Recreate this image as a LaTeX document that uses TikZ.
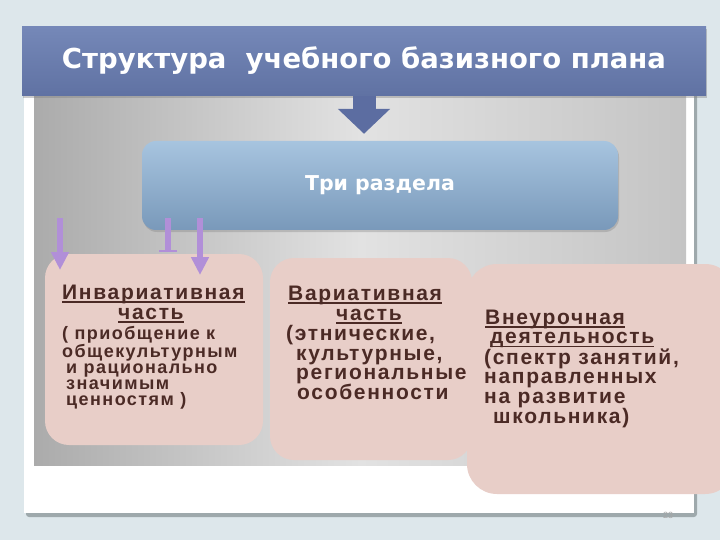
\documentclass[tikz,border=0pt]{standalone}
\usepackage{fontspec}
\setmainfont{Liberation Sans}
\newfontfamily\spacedfont[LetterSpace=8]{Liberation Sans}
\newfontfamily\widefont{DejaVu Sans}
\usetikzlibrary{arrows.meta,shadows}

\definecolor{slidebg}{HTML}{DDE7EB}
\definecolor{framegray}{HTML}{9EA9AC}
\definecolor{panelleft}{HTML}{ABABAB}
\definecolor{panelmid}{HTML}{E2E2E2}
\definecolor{panelright}{HTML}{C4C4C4}
\definecolor{titletop}{HTML}{7588B8}
\definecolor{titlebottom}{HTML}{6072A3}
\definecolor{arrowblue}{HTML}{5C6DA1}
\definecolor{sectop}{HTML}{A7C4DF}
\definecolor{secbottom}{HTML}{7999BA}
\definecolor{partpink}{HTML}{E8CEC8}
\definecolor{textbrown}{HTML}{4B2A25}
\definecolor{lilac}{HTML}{B18FD8}

% underline drawn by hand: \underline is too thin at this size
\newcommand{\ulpart}[1]{\setbox0\hbox{#1}\rlap{\raisebox{-3.2pt}{\rule{\wd0}{1.5pt}}}\box0}

\tikzset{
  titlebar/.style={minimum width=684pt, minimum height=69pt, inner sep=0pt,
    top color=titletop, bottom color=titlebottom, text=white,
    font=\widefont\bfseries\fontsize{27.5}{30}\selectfont,
    drop shadow={opacity=0.4, shadow xshift=1pt, shadow yshift=-3pt}},
  sectionbox/.style={minimum width=476pt, minimum height=89pt, inner sep=0pt,
    rounded corners=14pt, top color=sectop, bottom color=secbottom, text=white,
    font=\widefont\bfseries\fontsize{20.5}{24}\selectfont,
    drop shadow={opacity=0.35, shadow xshift=1pt, shadow yshift=-2pt}},
  bigarrow/.style={draw=arrowblue, line width=23pt,
    -{Triangle[width=51pt,length=25pt]}, shorten >=7pt},
  partbox/.style={fill=partpink, rounded corners=24pt, inner sep=0pt},
  parttext/.style={anchor=north west, inner sep=0pt, align=left, text=textbrown,
    font=\spacedfont\bfseries\fontsize{21}{19.8}\selectfont},
  lilacarrow/.style={draw=lilac, line width=6pt, -{Triangle[width=17pt,length=18pt]}},
}

\begin{document}
\begin{tikzpicture}[x=1pt,y=-1pt]
  \useasboundingbox (0,0) rectangle (720,540);
  \fill[slidebg] (0,0) rectangle (720,540);
  % slide frame and grey panel
  \fill[framegray, rounded corners=3pt] (26,32) rectangle (697,517);
  \fill[white] (24,28) rectangle (694,513);
  \shade[left color=panelleft, right color=panelright, middle color=panelmid]
    (34,95) rectangle (686,465);

  \node[titlebar] (title) at (364,61) {Структура\ \ учебного базизного плана};
  \node[sectionbox] (sections) at (380,185.5) {Три раздела};
  \draw[bigarrow] (title.south) -- (title.south |- sections.north);

  % the three parts; the last one runs off the right edge of the slide
  \node[partbox, minimum width=218pt, minimum height=191pt] (inv) at (154,349.5) {};
  \node[partbox, minimum width=202pt, minimum height=202pt] (var) at (371,359) {};
  \node[partbox, rounded corners=30pt, minimum width=268pt, minimum height=230pt] (extra) at (601,379) {};

  \node[parttext] (invhead) at (62,285) {\ulpart{Инвариативная}\\\hspace*{56pt}\ulpart{часть}};
  \node[parttext, font=\spacedfont\bfseries\fontsize{18}{16.3}\selectfont] (invbody) at (62,325.7)
    {( приобщение к\\общекультурным\\\hspace*{4pt}и рационально\\\hspace*{4pt}значимым\\\hspace*{4pt}ценностям )};
  \node[parttext] (vartext) at (286,286)
    {\hspace*{2pt}\ulpart{Вариативная}\\\hspace*{50pt}\ulpart{часть}\\(этнические,\\\hspace*{10pt}культурные,\\\hspace*{10pt}региональные\\\hspace*{11pt}особенности};
  \node[parttext, font=\spacedfont\bfseries\fontsize{21}{19.2}\selectfont] (extratext) at (484,310)
    {\hspace*{1pt}\ulpart{Внеурочная}\\\hspace*{6pt}\ulpart{деятельность}\\(спектр занятий,\\направленных\\на развитие\\\hspace*{9pt}школьника)};

  % lilac pointers from the section box down to the first part
  \coordinate (p1top) at (60,218);
  \coordinate (p1end) at (60,270);
  \coordinate (p2top) at (168,218);
  \coordinate (p2end) at (168,252);
  \coordinate (p3top) at (200,218);
  \coordinate (p3end) at (200,275);
  \draw[lilacarrow] (p1top) -- (p1end);
  \draw[draw=lilac, line width=6pt, -{Bar[width=18pt,line width=2pt]}] (p2top) -- (p2end);
  \draw[lilacarrow] (p3top) -- (p3end);

  \node[text=gray!70, font=\fontsize{9}{10}\selectfont] (pagenum) at (668,515) {23};
\end{tikzpicture}
\end{document}
